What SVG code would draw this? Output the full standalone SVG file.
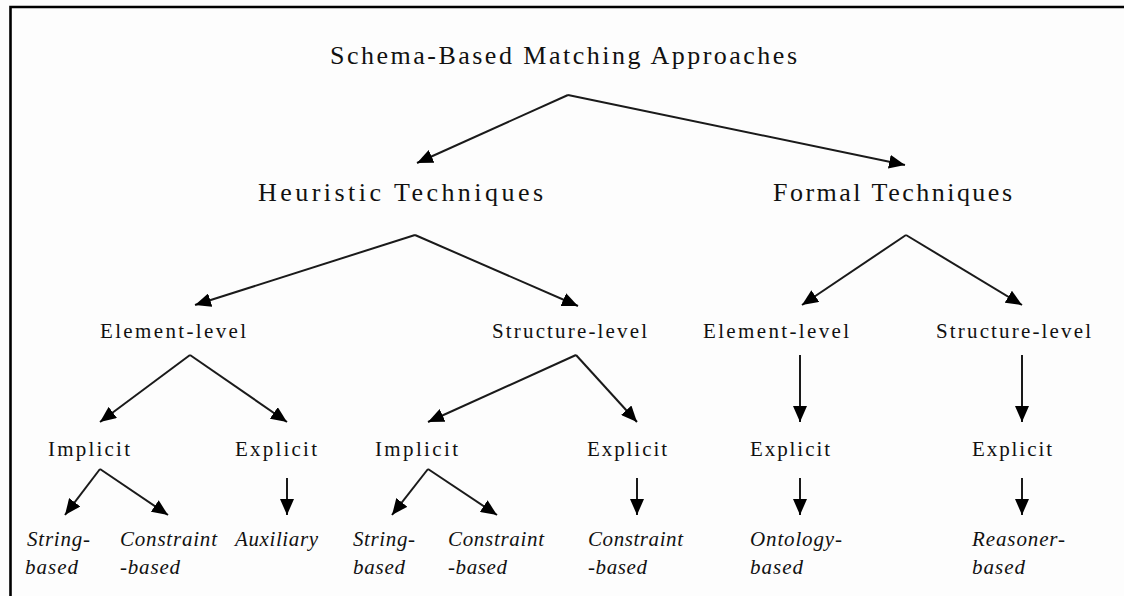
<svg xmlns="http://www.w3.org/2000/svg" width="1124" height="596" viewBox="0 0 1124 596">
  <style>
    .big { font-family: "Liberation Serif", serif; font-size: 26px; fill: #111; }
    .mid { font-family: "Liberation Serif", serif; font-size: 21px; fill: #111; }
    .leaf { font-family: "Liberation Serif", serif; font-size: 21px; font-style: italic; fill: #111; }
    .edge { stroke: #1a1a1a; stroke-width: 2; fill: none; marker-end: url(#head); }
  </style>
  <defs>
    <marker id="head" markerUnits="userSpaceOnUse" markerWidth="16" markerHeight="14" viewBox="0 0 16 14" refX="16" refY="7" orient="auto">
      <path d="M0,0 L16,7 L0,14 Z" fill="#000"/>
    </marker>
  </defs>
  <rect width="1124" height="596" fill="#fdfdfd"/>
  <!-- frame: top and left rules -->
  <path d="M10.5,596 V7 H1124" stroke="#000" stroke-width="2.6" fill="none"/>

  <g id="connectors">
    <line class="edge" x1="568" y1="95" x2="417" y2="163"/>
    <line class="edge" x1="568" y1="95" x2="905" y2="165"/>
    <line class="edge" x1="415" y1="235" x2="195" y2="305"/>
    <line class="edge" x1="415" y1="235" x2="578" y2="306"/>
    <line class="edge" x1="906" y1="235" x2="802" y2="305"/>
    <line class="edge" x1="906" y1="235" x2="1022" y2="305"/>
    <line class="edge" x1="190" y1="355" x2="100" y2="422"/>
    <line class="edge" x1="190" y1="355" x2="287" y2="422"/>
    <line class="edge" x1="576" y1="355" x2="428" y2="422"/>
    <line class="edge" x1="576" y1="355" x2="637" y2="422"/>
    <line class="edge" x1="800" y1="355" x2="800" y2="422"/>
    <line class="edge" x1="1022" y1="355" x2="1022" y2="422"/>
    <line class="edge" x1="100" y1="469" x2="65" y2="515"/>
    <line class="edge" x1="100" y1="469" x2="168" y2="515"/>
    <line class="edge" x1="287" y1="478" x2="287" y2="515"/>
    <line class="edge" x1="428" y1="469" x2="392" y2="515"/>
    <line class="edge" x1="428" y1="469" x2="497" y2="515"/>
    <line class="edge" x1="637" y1="478" x2="637" y2="515"/>
    <line class="edge" x1="800" y1="478" x2="800" y2="515"/>
    <line class="edge" x1="1022" y1="478" x2="1022" y2="515"/>
  </g>

  <g id="root"><text class="big" x="330" y="64" textLength="467" lengthAdjust="spacing">Schema-Based Matching Approaches</text></g>

  <g id="heuristic"><text class="big" x="258" y="201" textLength="285" lengthAdjust="spacing">Heuristic Techniques</text></g>
  <g id="formal"><text class="big" x="773" y="201" textLength="239" lengthAdjust="spacing">Formal Techniques</text></g>

  <g id="h-element"><text class="mid" x="100" y="338" textLength="146" lengthAdjust="spacing">Element-level</text></g>
  <g id="h-structure"><text class="mid" x="492" y="338" textLength="155" lengthAdjust="spacing">Structure-level</text></g>
  <g id="f-element"><text class="mid" x="703" y="338" textLength="146" lengthAdjust="spacing">Element-level</text></g>
  <g id="f-structure"><text class="mid" x="936" y="338" textLength="155" lengthAdjust="spacing">Structure-level</text></g>

  <g id="he-implicit"><text class="mid" x="48" y="456" textLength="82" lengthAdjust="spacing">Implicit</text></g>
  <g id="he-explicit"><text class="mid" x="235" y="456" textLength="82" lengthAdjust="spacing">Explicit</text></g>
  <g id="hs-implicit"><text class="mid" x="375" y="456" textLength="83" lengthAdjust="spacing">Implicit</text></g>
  <g id="hs-explicit"><text class="mid" x="587" y="456" textLength="80" lengthAdjust="spacing">Explicit</text></g>
  <g id="fe-explicit"><text class="mid" x="750" y="456" textLength="80" lengthAdjust="spacing">Explicit</text></g>
  <g id="fs-explicit"><text class="mid" x="972" y="456" textLength="80" lengthAdjust="spacing">Explicit</text></g>

  <g id="hei-string">
    <text class="leaf" x="27" y="546" textLength="63" lengthAdjust="spacing">String-</text>
    <text class="leaf" x="25" y="574" textLength="53" lengthAdjust="spacing">based</text>
  </g>
  <g id="hei-constraint">
    <text class="leaf" x="120" y="546" textLength="97" lengthAdjust="spacing">Constraint</text>
    <text class="leaf" x="120" y="574" textLength="60" lengthAdjust="spacing">-based</text>
  </g>
  <g id="hee-auxiliary">
    <text class="leaf" x="235" y="546" textLength="83" lengthAdjust="spacing">Auxiliary</text>
  </g>
  <g id="hsi-string">
    <text class="leaf" x="353" y="546" textLength="62" lengthAdjust="spacing">String-</text>
    <text class="leaf" x="353" y="574" textLength="52" lengthAdjust="spacing">based</text>
  </g>
  <g id="hsi-constraint">
    <text class="leaf" x="448" y="546" textLength="96" lengthAdjust="spacing">Constraint</text>
    <text class="leaf" x="448" y="574" textLength="59" lengthAdjust="spacing">-based</text>
  </g>
  <g id="hse-constraint">
    <text class="leaf" x="588" y="546" textLength="95" lengthAdjust="spacing">Constraint</text>
    <text class="leaf" x="588" y="574" textLength="59" lengthAdjust="spacing">-based</text>
  </g>
  <g id="fee-ontology">
    <text class="leaf" x="750" y="546" textLength="92" lengthAdjust="spacing">Ontology-</text>
    <text class="leaf" x="750" y="574" textLength="53" lengthAdjust="spacing">based</text>
  </g>
  <g id="fse-reasoner">
    <text class="leaf" x="972" y="546" textLength="93" lengthAdjust="spacing">Reasoner-</text>
    <text class="leaf" x="972" y="574" textLength="53" lengthAdjust="spacing">based</text>
  </g>
</svg>
